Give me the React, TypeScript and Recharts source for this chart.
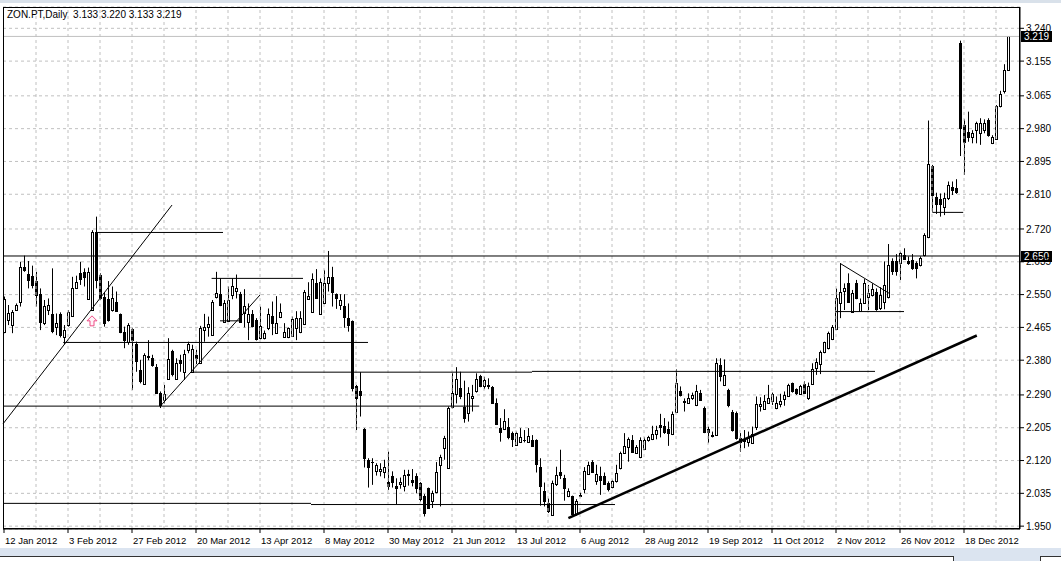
import {
  ComposedChart,
  Bar,
  XAxis,
  YAxis,
  CartesianGrid,
  ReferenceLine,
  ReferenceDot,
} from "recharts";

// ZON.PT daily candles, 12 Jan 2012 .. end of Dec 2012 (bar index 0..251)
// prettier-ignore
const OPEN = [
  2.454, 2.484, 2.471, 2.509, 2.530, 2.622, 2.603, 2.599, 2.585, 2.551,
  2.476, 2.509, 2.501, 2.467, 2.501, 2.439, 2.470, 2.495, 2.566, 2.607,
  2.609, 2.539, 2.510, 2.713, 2.601, 2.545, 2.539, 2.510, 2.532, 2.499,
  2.454, 2.428, 2.461, 2.421, 2.355, 2.318, 2.392, 2.385, 2.363, 2.294,
  2.277, 2.331, 2.405, 2.331, 2.381, 2.350, 2.407, 2.350, 2.394, 2.372,
  2.458, 2.467, 2.445, 2.545, 2.551, 2.480, 2.482, 2.549, 2.560, 2.551,
  2.503, 2.480, 2.500, 2.483, 2.437, 2.437, 2.463, 2.495, 2.450, 2.491,
  2.441, 2.439, 2.443, 2.464, 2.452, 2.473, 2.539, 2.506, 2.579, 2.501,
  2.527, 2.579, 2.595, 2.551, 2.523, 2.521, 2.489, 2.482, 2.312, 2.299,
  2.202, 2.122, 2.117, 2.093, 2.092, 2.090, 2.064, 2.081, 2.055, 2.059,
  2.055, 2.085, 2.070, 2.081, 2.061, 2.029, 2.048, 2.014, 2.038, 2.109,
  2.152, 2.100, 2.260, 2.293, 2.307, 2.260, 2.244, 2.281, 2.299, 2.339,
  2.312, 2.316, 2.310, 2.268, 2.204, 2.201, 2.208, 2.191, 2.161, 2.169,
  2.172, 2.169, 2.172, 2.174, 2.104, 2.040, 2.010, 1.979, 2.060, 2.091,
  2.074, 2.027, 2.027, 1.982, 2.031, 2.045, 2.085, 2.117, 2.068, 2.080,
  2.080, 2.063, 2.051, 2.066, 2.100, 2.139, 2.154, 2.173, 2.139, 2.129,
  2.149, 2.172, 2.175, 2.189, 2.212, 2.210, 2.201, 2.189, 2.247, 2.299,
  2.275, 2.270, 2.281, 2.264, 2.296, 2.255, 2.201, 2.184, 2.186, 2.368,
  2.316, 2.303, 2.247, 2.244, 2.178, 2.174, 2.169, 2.165, 2.206, 2.262,
  2.253, 2.269, 2.275, 2.256, 2.267, 2.279, 2.287, 2.320, 2.305, 2.293,
  2.319, 2.281, 2.319, 2.359, 2.370, 2.400, 2.411, 2.434, 2.460, 2.529,
  2.560, 2.579, 2.506, 2.579, 2.508, 2.529, 2.543, 2.549, 2.558, 2.515,
  2.530, 2.545, 2.638, 2.638, 2.631, 2.653, 2.638, 2.640, 2.631, 2.627,
  2.653, 2.699, 2.884, 2.804, 2.797, 2.778, 2.800, 2.828, 2.825, 3.203,
  2.989, 2.972, 2.959, 2.976, 2.970, 2.976, 3.002, 2.944, 2.952, 3.039,
  3.078, 3.133,
];
// prettier-ignore
const HIGH = [
  2.545, 2.523, 2.510, 2.527, 2.635, 2.651, 2.637, 2.625, 2.609, 2.566,
  2.536, 2.540, 2.618, 2.501, 2.504, 2.471, 2.510, 2.596, 2.599, 2.635,
  2.618, 2.620, 2.717, 2.752, 2.605, 2.556, 2.585, 2.571, 2.558, 2.501,
  2.467, 2.476, 2.464, 2.428, 2.381, 2.398, 2.432, 2.394, 2.370, 2.299,
  2.316, 2.437, 2.407, 2.385, 2.394, 2.407, 2.428, 2.420, 2.407, 2.469,
  2.500, 2.493, 2.536, 2.609, 2.592, 2.536, 2.571, 2.592, 2.602, 2.557,
  2.564, 2.527, 2.510, 2.489, 2.519, 2.457, 2.514, 2.532, 2.546, 2.527,
  2.476, 2.465, 2.493, 2.507, 2.507, 2.562, 2.582, 2.605, 2.616, 2.592,
  2.614, 2.663, 2.622, 2.553, 2.551, 2.551, 2.527, 2.483, 2.316, 2.349,
  2.204, 2.126, 2.126, 2.113, 2.113, 2.122, 2.143, 2.092, 2.074, 2.076,
  2.096, 2.096, 2.098, 2.087, 2.064, 2.033, 2.050, 2.042, 2.116, 2.135,
  2.184, 2.260, 2.346, 2.362, 2.350, 2.327, 2.310, 2.316, 2.346, 2.342,
  2.337, 2.333, 2.313, 2.281, 2.230, 2.253, 2.230, 2.195, 2.195, 2.204,
  2.199, 2.204, 2.186, 2.175, 2.126, 2.063, 2.022, 2.068, 2.104, 2.148,
  2.083, 2.048, 2.029, 2.020, 2.037, 2.103, 2.117, 2.121, 2.109, 2.104,
  2.089, 2.066, 2.070, 2.109, 2.143, 2.191, 2.180, 2.186, 2.160, 2.180,
  2.180, 2.184, 2.210, 2.210, 2.241, 2.230, 2.221, 2.247, 2.356, 2.312,
  2.281, 2.294, 2.296, 2.316, 2.303, 2.260, 2.208, 2.195, 2.385, 2.385,
  2.382, 2.306, 2.251, 2.247, 2.191, 2.199, 2.195, 2.208, 2.286, 2.284,
  2.290, 2.316, 2.296, 2.286, 2.293, 2.299, 2.319, 2.322, 2.307, 2.316,
  2.325, 2.322, 2.372, 2.385, 2.405, 2.428, 2.454, 2.471, 2.566, 2.631,
  2.579, 2.605, 2.562, 2.588, 2.540, 2.590, 2.575, 2.579, 2.566, 2.569,
  2.636, 2.681, 2.644, 2.655, 2.661, 2.670, 2.649, 2.655, 2.636, 2.649,
  2.709, 3.001, 2.886, 2.814, 2.812, 2.814, 2.843, 2.843, 2.849, 3.208,
  3.004, 3.024, 2.976, 2.998, 3.007, 3.004, 3.007, 2.963, 3.041, 3.078,
  3.147, 3.220,
];
// prettier-ignore
const LOW = [
  2.450, 2.471, 2.450, 2.508, 2.519, 2.609, 2.566, 2.566, 2.519, 2.458,
  2.471, 2.497, 2.450, 2.445, 2.439, 2.421, 2.467, 2.493, 2.565, 2.575,
  2.571, 2.536, 2.508, 2.566, 2.536, 2.467, 2.480, 2.506, 2.506, 2.450,
  2.411, 2.420, 2.303, 2.350, 2.320, 2.316, 2.380, 2.363, 2.293, 2.256,
  2.268, 2.329, 2.338, 2.329, 2.350, 2.329, 2.398, 2.348, 2.370, 2.370,
  2.428, 2.441, 2.443, 2.540, 2.520, 2.477, 2.480, 2.538, 2.540, 2.477,
  2.465, 2.432, 2.465, 2.431, 2.434, 2.434, 2.458, 2.445, 2.448, 2.489,
  2.439, 2.437, 2.441, 2.432, 2.450, 2.471, 2.536, 2.504, 2.539, 2.500,
  2.525, 2.558, 2.519, 2.513, 2.510, 2.464, 2.454, 2.299, 2.199, 2.234,
  2.102, 2.050, 2.057, 2.081, 2.079, 2.074, 2.044, 2.050, 2.007, 2.047,
  2.040, 2.055, 2.053, 2.035, 2.014, 1.975, 1.997, 1.997, 2.035, 2.001,
  2.122, 2.098, 2.255, 2.268, 2.279, 2.218, 2.221, 2.247, 2.296, 2.310,
  2.305, 2.305, 2.267, 2.212, 2.169, 2.199, 2.175, 2.155, 2.158, 2.167,
  2.167, 2.167, 2.155, 2.089, 2.003, 2.001, 1.984, 1.977, 2.054, 2.072,
  2.016, 2.025, 1.975, 1.977, 2.025, 2.035, 2.083, 2.089, 2.057, 2.031,
  2.057, 2.040, 2.048, 2.063, 2.097, 2.137, 2.117, 2.141, 2.137, 2.126,
  2.148, 2.169, 2.173, 2.175, 2.180, 2.189, 2.158, 2.186, 2.244, 2.286,
  2.247, 2.268, 2.277, 2.261, 2.275, 2.191, 2.165, 2.180, 2.184, 2.325,
  2.313, 2.258, 2.195, 2.174, 2.143, 2.152, 2.156, 2.163, 2.199, 2.247,
  2.251, 2.267, 2.264, 2.253, 2.258, 2.262, 2.286, 2.296, 2.290, 2.290,
  2.293, 2.277, 2.316, 2.342, 2.344, 2.398, 2.408, 2.432, 2.458, 2.489,
  2.510, 2.529, 2.503, 2.538, 2.506, 2.526, 2.510, 2.545, 2.508, 2.510,
  2.512, 2.540, 2.601, 2.599, 2.588, 2.640, 2.627, 2.614, 2.592, 2.623,
  2.649, 2.696, 2.765, 2.759, 2.752, 2.756, 2.795, 2.808, 2.811, 2.909,
  2.860, 2.946, 2.942, 2.942, 2.938, 2.968, 2.959, 2.940, 2.951, 3.035,
  3.071, 3.133,
];
// prettier-ignore
const CLOSE = [
  2.538, 2.502, 2.504, 2.523, 2.622, 2.615, 2.588, 2.575, 2.549, 2.478,
  2.521, 2.523, 2.456, 2.477, 2.444, 2.458, 2.506, 2.566, 2.582, 2.590,
  2.596, 2.609, 2.713, 2.588, 2.540, 2.476, 2.484, 2.540, 2.508, 2.454,
  2.432, 2.471, 2.432, 2.378, 2.325, 2.394, 2.387, 2.368, 2.294, 2.264,
  2.293, 2.382, 2.344, 2.372, 2.374, 2.396, 2.422, 2.409, 2.385, 2.463,
  2.465, 2.474, 2.532, 2.555, 2.523, 2.527, 2.536, 2.571, 2.566, 2.480,
  2.520, 2.501, 2.469, 2.434, 2.469, 2.450, 2.501, 2.476, 2.476, 2.506,
  2.454, 2.463, 2.486, 2.489, 2.489, 2.558, 2.547, 2.590, 2.540, 2.582,
  2.579, 2.595, 2.556, 2.540, 2.536, 2.493, 2.470, 2.309, 2.281, 2.290,
  2.126, 2.102, 2.116, 2.109, 2.098, 2.102, 2.053, 2.064, 2.048, 2.064,
  2.083, 2.083, 2.064, 2.050, 2.021, 1.984, 1.998, 2.035, 2.090, 2.130,
  2.178, 2.255, 2.294, 2.331, 2.286, 2.230, 2.294, 2.287, 2.331, 2.312,
  2.329, 2.312, 2.268, 2.215, 2.195, 2.223, 2.182, 2.175, 2.191, 2.180,
  2.173, 2.184, 2.158, 2.111, 2.054, 2.014, 1.988, 2.063, 2.083, 2.083,
  2.048, 2.040, 1.982, 2.016, 2.028, 2.092, 2.109, 2.091, 2.085, 2.070,
  2.060, 2.046, 2.066, 2.087, 2.139, 2.158, 2.175, 2.143, 2.154, 2.172,
  2.173, 2.180, 2.189, 2.198, 2.208, 2.195, 2.191, 2.241, 2.320, 2.290,
  2.272, 2.281, 2.290, 2.299, 2.277, 2.195, 2.195, 2.185, 2.374, 2.338,
  2.342, 2.264, 2.199, 2.178, 2.169, 2.171, 2.178, 2.189, 2.267, 2.267,
  2.273, 2.281, 2.293, 2.270, 2.275, 2.290, 2.316, 2.299, 2.294, 2.312,
  2.294, 2.312, 2.357, 2.376, 2.400, 2.426, 2.450, 2.467, 2.540, 2.558,
  2.566, 2.532, 2.555, 2.540, 2.529, 2.579, 2.555, 2.564, 2.512, 2.549,
  2.575, 2.626, 2.610, 2.610, 2.657, 2.642, 2.631, 2.618, 2.618, 2.644,
  2.705, 2.888, 2.808, 2.785, 2.785, 2.800, 2.834, 2.821, 2.817, 2.981,
  2.946, 2.959, 2.970, 2.994, 2.994, 2.995, 2.963, 2.959, 3.039, 3.070,
  3.133, 3.219,
];

const DATE_LABELS = [
  "12 Jan 2012", "3 Feb 2012", "27 Feb 2012", "20 Mar 2012",
  "13 Apr 2012", "8 May 2012", "30 May 2012", "21 Jun 2012",
  "13 Jul 2012", "6 Aug 2012", "28 Aug 2012", "19 Sep 2012",
  "11 Oct 2012", "2 Nov 2012", "26 Nov 2012", "18 Dec 2012",
];
const DATE_TICKS = DATE_LABELS.map((_, k) => k * 16);
const GRID_X = Array.from({ length: 31 }, (_, k) => (k + 1) * 8);

const PRICE_TICKS = [
  3.240, 3.155, 3.065, 2.980, 2.895, 2.810, 2.720, 2.635,
  2.550, 2.465, 2.380, 2.290, 2.205, 2.120, 2.035, 1.950,
];
const PRICE_DOMAIN = [1.9426, 3.2952];
const LAST_PRICE = 3.219;
const LEVEL_PRICE = 2.650;

// hand drawn objects: [fromBar, toBar, price]
const H_SEGMENTS = [
  [23, 54.75, 2.711],
  [14.8, 91, 2.426],
  [-0.25, 118.8, 2.261],
  [46.9, 132, 2.349],
  [132, 217.75, 2.351],
  [-0.25, 76.75, 2.009],
  [76.75, 152.75, 2.006],
  [51.9, 74.75, 2.592],
  [54, 59.4, 2.482],
  [207.9, 225, 2.506],
  [232.1, 239.8, 2.763],
];
// [bar1, price1, bar2, price2]
const THIN_LINES = [
  [-0.25, 2.215, 42, 2.782],
  [39, 2.26, 64, 2.549],
  [209, 2.631, 221.5, 2.552],
];
const TREND_LINE = [141.1, 1.971, 243.2, 2.444];
const ARROW_AT = [22, 2.482];

const FONT = "'Liberation Sans', Arial, sans-serif";

const candles = OPEN.map((o, i) => ({
  i,
  open: o,
  high: HIGH[i],
  low: LOW[i],
  close: CLOSE[i],
}));

function Candle(props: any) {
  const { x, y, width, height, payload } = props;
  if (x == null || !payload) return null;
  const top = Math.min(y, y + height);
  const bottom = Math.max(y, y + height);
  const span = payload.high - payload.low;
  const toY = (p: number) =>
    span === 0 ? top : top + ((payload.high - p) / span) * (bottom - top);
  const cx = Math.round(x + width / 2);
  const oy = Math.round(toY(payload.open));
  const cy = Math.round(toY(payload.close));
  const bTop = Math.min(oy, cy);
  const bBot = Math.max(oy, cy);
  const up = payload.close >= payload.open;
  return (
    <g>
      <line x1={cx + 0.5} x2={cx + 0.5} y1={top} y2={bottom} stroke="#000" />
      {bBot - bTop < 1 ? (
        <line x1={cx - 1} x2={cx + 2} y1={bTop + 0.5} y2={bTop + 0.5} stroke="#000" />
      ) : (
        <rect
          x={cx - 0.5}
          y={bTop + 0.5}
          width={2}
          height={bBot - bTop}
          fill={up ? "#fff" : "#000"}
          stroke="#000"
        />
      )}
    </g>
  );
}

function PriceTag({ viewBox, tag }: any) {
  if (!viewBox) return null;
  const x = viewBox.x + viewBox.width + 1;
  const y = Math.round(viewBox.y);
  return (
    <g>
      <rect x={x} y={y - 5} width={31} height={11} fill="#000" />
      <text x={x + 3} y={y + 4} fill="#fff" fontSize={10} fontFamily={FONT}>
        {tag}
      </text>
    </g>
  );
}

function DateTick({ x, y, index }: any) {
  return (
    <text x={x + 1} y={y + 9} fontSize={9.5} fontFamily={FONT} fill="#000" textAnchor="start">
      {DATE_LABELS[index]}
    </text>
  );
}

function Arrow({ cx, cy }: any) {
  if (cx == null) return null;
  const pts = [
    [cx, cy - 5], [cx + 5, cy], [cx + 2, cy], [cx + 2, cy + 5],
    [cx - 2, cy + 5], [cx - 2, cy], [cx - 5, cy],
  ].map((p) => p.join(",")).join(" ");
  return <polygon points={pts} fill="#fff2f7" stroke="#ee4d86" />;
}

export default function App() {
  return (
    <div
      style={{
        position: "fixed",
        left: 0,
        top: 0,
        width: 1061,
        height: 561,
        background: "#fff",
        overflow: "hidden",
        fontFamily: FONT,
      }}
    >
      <div style={{ position: "absolute", left: 0, top: 0, width: 1061, height: 3, background: "#d9e1ea" }} />
      <ComposedChart
        width={1061}
        height={561}
        data={candles}
        margin={{ top: 7, right: 0, bottom: 0, left: 3 }}
      >
        <CartesianGrid vertical={false} stroke="#c0c0c0" strokeDasharray="3 3" />
        {GRID_X.map((g) => (
          <ReferenceLine key={g} x={g} stroke="#c0c0c0" strokeDasharray="3 3" />
        ))}
        <XAxis
          type="number"
          dataKey="i"
          domain={[-0.25, 254]}
          allowDataOverflow
          ticks={DATE_TICKS}
          interval={0}
          height={32}
          tick={<DateTick />}
          tickSize={4}
          tickMargin={2}
          tickLine={{ stroke: "#000" }}
          axisLine={{ stroke: "#000" }}
        />
        <YAxis
          orientation="right"
          type="number"
          domain={PRICE_DOMAIN}
          allowDataOverflow
          ticks={PRICE_TICKS}
          interval={0}
          width={41}
          tickSize={4}
          tickMargin={2}
          tickFormatter={(v: number) => v.toFixed(3)}
          tick={{ fontSize: 10, fill: "#000", fontFamily: FONT }}
          tickLine={{ stroke: "#000" }}
          axisLine={{ stroke: "#000" }}
        />
        <ReferenceLine
          y={LAST_PRICE}
          stroke="#c0c0c0"
          label={<PriceTag tag={LAST_PRICE.toFixed(3)} />}
        />
        <ReferenceLine
          y={LEVEL_PRICE}
          stroke="#000"
          label={<PriceTag tag={LEVEL_PRICE.toFixed(3)} />}
        />
        {H_SEGMENTS.map(([a, b, p], k) => (
          <ReferenceLine
            key={"h" + k}
            segment={[{ x: a, y: p }, { x: b, y: p }]}
            stroke="#000"
          />
        ))}
        {THIN_LINES.map(([a, p1, b, p2], k) => (
          <ReferenceLine
            key={"d" + k}
            segment={[{ x: a, y: p1 }, { x: b, y: p2 }]}
            stroke="#000"
          />
        ))}
        <ReferenceLine
          segment={[
            { x: TREND_LINE[0], y: TREND_LINE[1] },
            { x: TREND_LINE[2], y: TREND_LINE[3] },
          ]}
          stroke="#000"
          strokeWidth={2.5}
        />
        <Bar
          dataKey={(d: any) => [d.low, d.high]}
          barSize={3}
          shape={(p: any) => <Candle {...p} />}
          isAnimationActive={false}
        />
        <ReferenceDot
          x={ARROW_AT[0]}
          y={ARROW_AT[1]}
          r={5}
          shape={(p: any) => <Arrow {...p} />}
        />
      </ComposedChart>
      <div
        style={{
          position: "absolute",
          left: 3,
          top: 7,
          width: 1017,
          height: 522,
          border: "1px solid #000",
          boxSizing: "border-box",
          pointerEvents: "none",
        }}
      />
      <div
        style={{
          position: "absolute",
          left: 7,
          top: 10,
          fontSize: 10,
          lineHeight: "10px",
          whiteSpace: "pre",
          color: "#000",
        }}
      >
        {"ZON.PT,Daily  3.133 3.220 3.133 3.219"}
      </div>
      <div style={{ position: "absolute", left: 0, top: 548, width: 1061, height: 13, background: "#dbe4f0" }} />
      <div
        style={{
          position: "absolute",
          left: 0,
          top: 556,
          width: 954,
          height: 6,
          background: "#fff",
          borderTop: "1px solid #333",
          borderRight: "1px solid #333",
          boxSizing: "border-box",
        }}
      />
      <div
        style={{
          position: "absolute",
          left: 1040,
          top: 556,
          width: 22,
          height: 6,
          background: "#fff",
          borderTop: "1px solid #333",
          borderLeft: "1px solid #333",
          boxSizing: "border-box",
        }}
      />
    </div>
  );
}
